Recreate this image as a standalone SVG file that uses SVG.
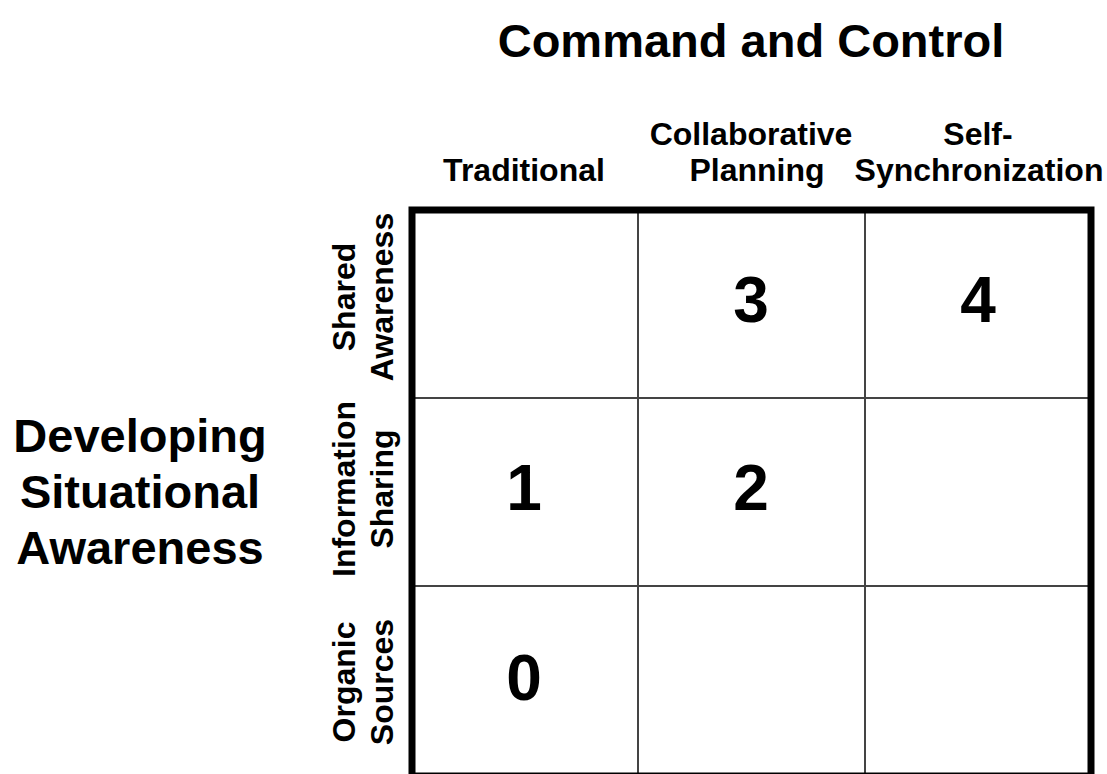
<svg xmlns="http://www.w3.org/2000/svg" width="1107" height="774" viewBox="0 0 1107 774">
<style>
text{font-family:"Liberation Sans",Arial,sans-serif;font-weight:bold;fill:#000;text-anchor:middle}
.big{font-size:47px}
.hdr{font-size:32px}
.num{font-size:64px}
.inner{stroke:#444;stroke-width:2;fill:none}
.outer{stroke:#000;stroke-width:7;fill:none}
</style>
<rect width="1107" height="774" fill="#fff"/>
<g id="title"><text class="big" x="751" y="57">Command and Control</text></g>
<g id="side-title">
<text class="big" x="140" y="452">Developing</text>
<text class="big" x="140" y="508">Situational</text>
<text class="big" x="140" y="564">Awareness</text>
</g>
<g id="col-headers">
<text class="hdr" x="524" y="181">Traditional</text>
<text class="hdr" x="751" y="145">Collaborative</text>
<text class="hdr" x="757" y="181">Planning</text>
<text class="hdr" x="978" y="145">Self-</text>
<text class="hdr" x="979" y="181">Synchronization</text>
</g>
<g id="row-headers">
<text class="hdr" transform="translate(355,297) rotate(-90)">Shared</text>
<text class="hdr" transform="translate(393,297) rotate(-90)">Awareness</text>
<text class="hdr" transform="translate(355,489) rotate(-90)">Information</text>
<text class="hdr" transform="translate(393,489) rotate(-90)">Sharing</text>
<text class="hdr" transform="translate(355,682) rotate(-90)">Organic</text>
<text class="hdr" transform="translate(393,682) rotate(-90)">Sources</text>
</g>
<g id="grid">
<line class="inner" x1="638" y1="210" x2="638" y2="775"/>
<line class="inner" x1="865" y1="210" x2="865" y2="775"/>
<line class="inner" x1="412" y1="398" x2="1091" y2="398"/>
<line class="inner" x1="412" y1="586" x2="1091" y2="586"/>
<rect class="outer" x="412" y="210" width="679" height="566"/>
</g>
<g id="cells">
<text class="num" x="751" y="322">3</text>
<text class="num" x="978" y="322">4</text>
<text class="num" x="524" y="510">1</text>
<text class="num" x="751" y="510">2</text>
<text class="num" x="524" y="700">0</text>
</g>
</svg>
